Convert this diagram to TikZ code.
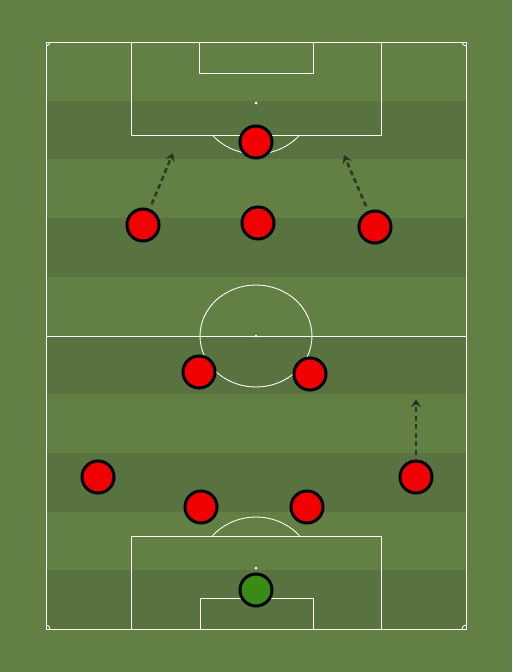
\documentclass[tikz,border=0pt]{standalone}
\usepackage{tikz}
\usetikzlibrary{arrows.meta,shadows}
\definecolor{grassL}{RGB}{98,128,68}
\definecolor{grassD}{RGB}{88,115,63}
\definecolor{kitred}{RGB}{240,0,0}
\definecolor{kitgreen}{RGB}{58,138,22}
\definecolor{runcol}{RGB}{45,58,36}

\begin{document}
\begin{tikzpicture}[x=1pt,y=-1pt,chalk/.style={draw=white,line width=0.9pt},player/.style={circle,draw=black,line width=3pt,fill=kitred,minimum size=32pt,inner sep=0pt,drop shadow={opacity=0.3,shadow xshift=0pt,shadow yshift=-1.2pt}},keeper/.style={player,fill=kitgreen},run/.style={draw=runcol,line width=2.6pt,dash pattern=on 5pt off 3.5pt,-{Stealth[length=8pt,width=10pt]},shorten <=5pt}]
    % pitch and stripes
    \useasboundingbox (0,0) rectangle (512,672);
    \fill[grassL] (0,0) rectangle (512,672);
    \foreach \i in {1,3,5,7,9}
        \fill[grassD] (46,{42+\i*58.7}) rectangle (466,{42+(\i+1)*58.7});
    \draw[chalk] (46,42) rectangle (466,629);
    \draw[chalk] (46,336) -- (466,336);
    \draw[chalk] (256,336) ellipse[x radius=56,y radius=51];
    \draw[chalk] (131,42) rectangle (381,135);
    \draw[chalk] (199,42) rectangle (313,73);
    \draw[chalk] (131,536) rectangle (381,629);
    \draw[chalk] (200,598) rectangle (313,629);
    \fill[white] (256,336) circle[radius=1.5] (256,103) circle[radius=1.5] (256,568) circle[radius=1.5];
    \begin{scope}
        \clip (100,135) rectangle (400,200);
        \draw[chalk] (256,103) ellipse[x radius=56,y radius=51];
    \end{scope}
    \begin{scope}
        \clip (100,480) rectangle (400,536);
        \draw[chalk] (256,568) ellipse[x radius=56,y radius=51];
    \end{scope}
    \begin{scope}
        \clip (46,42) rectangle (466,629);
        \foreach \cx/\cy in {46/42,466/42,46/629,466/629}
            \draw[chalk] (\cx,\cy) circle[radius=4];
    \end{scope}

    % players
    \node[keeper] (1) at (256,590) {};
    \node[player] (2) at (201,507) {};
    \node[player] (3) at (307,507) {};
    \node[player] (4) at (98,477) {};
    \node[player] (5) at (416,477) {};
    \node[player] (6) at (199,372) {};
    \node[player] (7) at (310,374) {};
    \node[player] (8) at (143,225) {};
    \node[player] (9) at (258,223) {};
    \node[player] (10) at (375,227) {};
    \node[player] (11) at (256,142) {};

    \coordinate (t5) at (416,399);
    \coordinate (t8) at (173,153);
    \coordinate (t10) at (344,155);
    \path[run]
    (5) edge (t5)
    (8) edge (t8)
    (10) edge (t10);
\end{tikzpicture}
\end{document}
